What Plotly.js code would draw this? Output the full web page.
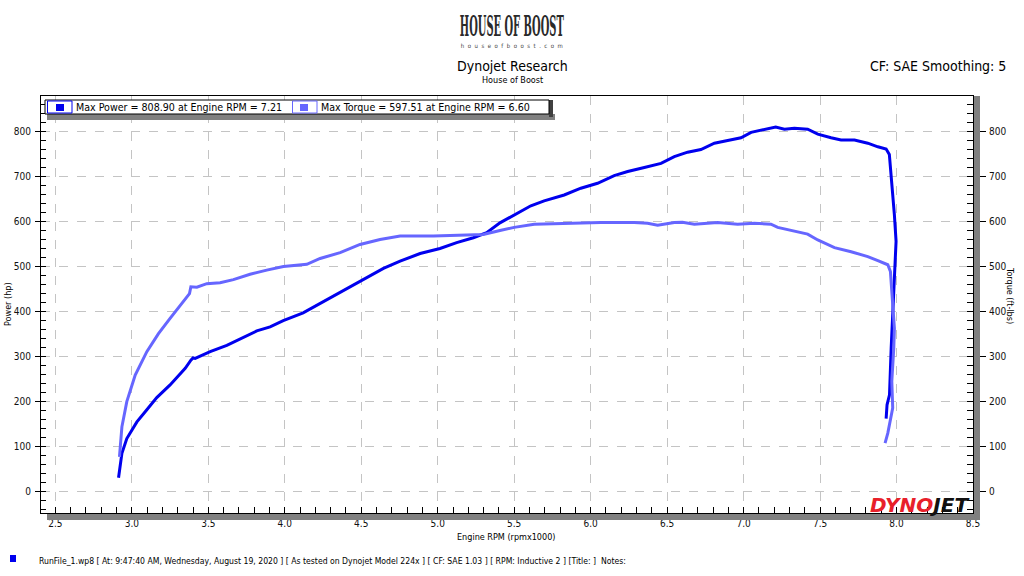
<!DOCTYPE html>
<html>
<head>
<meta charset="utf-8">
<script src="https://cdn.plot.ly/plotly-3.0.1.min.js"></script>
<style>
html,body{margin:0;padding:0;background:#fff;}
#chart{width:1024px;height:576px;}
</style>
</head>
<body>
<div id="chart"></div>
<script>
// ---- data ----
const powerRpm = [2.913,2.935,2.967,3.033,3.098,3.163,3.25,3.349,3.386,3.40,
  3.414,3.512,3.621,3.73,3.817,3.904,3.99,4.12,4.209,4.318,
  4.427,4.514,4.645,4.754,4.885,5.015,5.124,5.233,5.32,5.407,
  5.5,5.609,5.696,5.827,5.936,6.045,6.154,6.242,6.351,6.46,
  6.547,6.634,6.721,6.809,6.896,6.983,7.049,7.136,7.179,7.21,
  7.267,7.332,7.419,7.485,7.572,7.637,7.725,7.812,7.878,7.932,
  7.953,7.969,7.986,7.997,7.986,7.975,7.965,7.954,7.938,7.932];
const powerHp = [30,84,117,154,181,208,236,273,291,296,
  295,310,324,341,356,365,379,396,413,433,
  453,470,495,511,528,539,552,563,574,596,
  614,634,645,658,673,684,701,710,719,728,
  743,753,759,773,779,785,797,804,808,808.9,
  804,806,804,793,785,780,780,773,765,760,
  748,688,614,555,481,392,318,214,192,161];
const torqueRpm = [2.919,2.935,2.967,3.022,3.098,3.174,3.25,3.338,3.377,3.386,
  3.425,3.49,3.577,3.664,3.773,3.882,3.991,4.144,4.231,4.362,
  4.492,4.623,4.754,4.972,5.146,5.298,5.407,5.5,5.631,5.849,
  6.067,6.285,6.372,6.438,6.547,6.60,6.678,6.83,6.961,7.07,
  7.179,7.223,7.31,7.419,7.485,7.594,7.703,7.812,7.878,7.943,
  7.96,7.975,7.986,7.982,7.969,7.975,7.96,7.943,7.925];
const torqueFtLb = [76,143,199,258,310,350,384,421,439,454,
  453,461,463,470,482,491,499,504,517,530,
  548,559,567,567,568,570,579,586,593,595,
  597,597,595,591,597,597.5,593,597,593,595,
  593,586,579,571,558,541,532,521,512,503,
  488,421,362,318,244,185,155,129,107];

const legendLabels = ["Max Power = 808.90 at Engine RPM = 7.21", "Max Torque = 597.51 at Engine RPM = 6.60"];
const titleText = "Dynojet Research";
const subtitleText = "House of Boost";
const cornerText = "CF: SAE Smoothing: 5";
const logoText = "HOUSE OF BOOST";
const logoUrl = "houseofboost.com";
const xTitle = "Engine RPM (rpmx1000)";
const yTitle = "Power (hp)";
const y2Title = "Torque (ft-lbs)";
const footerText = "RunFile_1.wp8 [ At: 9:47:40 AM, Wednesday, August 19, 2020 ] [ As tested on Dynojet Model 224x ] [ CF: SAE 1.03 ] [ RPM: Inductive 2 ] [Title: ]  Notes:";

// ---- styling / layout ----
const powerColor = "#0000EE";
const torqueColor = "#6666FF";
const FONT = "'DejaVu Sans Condensed', 'DejaVu Sans', sans-serif";
const L = 41, T = 96, W = 932, H = 417;
const px = X => (X - L) / W;
const py = Y => (T + H - Y) / H;
const yRange = [-48.4, 877.8];
const xRange = [2.406, 8.5];

const traces = [
  {x: powerRpm, y: powerHp, type: "scatter", mode: "lines", name: legendLabels[0],
   line: {color: powerColor, width: 3}, yaxis: "y", hoverinfo: "skip"},
  {x: torqueRpm, y: torqueFtLb, type: "scatter", mode: "lines", name: legendLabels[1],
   line: {color: torqueColor, width: 3}, yaxis: "y2", hoverinfo: "skip"}
];

function rect(x0, y0, x1, y1, fill, lineColor, lw) {
  return {type: "rect", xref: "paper", yref: "paper", layer: "above",
    x0: px(x0), x1: px(x1), y0: py(y1), y1: py(y0),
    fillcolor: fill || "rgba(0,0,0,0)",
    line: {color: lineColor || "rgba(0,0,0,0)", width: lw || 0}};
}

const shapes = [
  rect(47, 514, 980, 520, "#808080"),
  rect(974, 96, 980, 520, "#808080"),
  // legend box with shadow
  rect(47, 114, 555, 120, "#808080"),
  rect(549, 100, 553, 117, "#404040"),
  rect(45, 100, 549, 114, "#ffffff", "#000000", 1),
  rect(47.5, 101, 72, 113, null, powerColor, 1),
  rect(56, 104, 64, 111, powerColor),
  rect(292.5, 101, 317, 113, null, torqueColor, 1),
  rect(300, 104, 308, 111, torqueColor),
  // footer marker
  rect(10, 555, 16, 562, powerColor)
];

function ann(text, X, Y, opts) {
  return Object.assign({text: text, xref: "paper", yref: "paper", x: px(X), y: py(Y),
    showarrow: false, xanchor: "center", yanchor: "middle",
    font: {family: FONT, size: 11, color: "#000"}}, opts || {});
}

const annotations = [
  ann(logoText, 512, 27, {font: {family: "'DejaVu Serif Condensed', 'DejaVu Serif', serif", size: 27, weight: "bold", color: "#2a2a2a"}}),
  ann(logoUrl, 512, 45, {font: {family: FONT, size: 6, color: "#444"}}),
  ann(titleText, 512, 66, {font: {family: FONT, size: 14, color: "#000"}}),
  ann(subtitleText, 512, 80, {font: {family: FONT, size: 9, color: "#000"}}),
  ann(cornerText, 1008, 66, {xanchor: "right", font: {family: FONT, size: 14, color: "#000"}}),
  ann(legendLabels[0], 74, 107, {xanchor: "left", font: {family: FONT, size: 10.6, color: "#000"}}),
  ann(legendLabels[1], 319, 107, {xanchor: "left", font: {family: FONT, size: 10.6, color: "#000"}}),
  ann(yTitle, 8, 304, {textangle: -90, font: {family: FONT, size: 9, color: "#000"}}),
  ann(y2Title, 1010, 295, {textangle: 90, font: {family: FONT, size: 9, color: "#000"}}),
  ann(xTitle, 506, 537, {font: {family: FONT, size: 9, color: "#000"}}),
  ann(footerText, 37, 561, {xanchor: "left", font: {family: FONT, size: 8.6, color: "#000"}}),
  ann("<span style='color:#e8202a'>DYNO</span><span style='color:#111'>JET</span>", 971, 505,
      {xanchor: "right", font: {family: "'DejaVu Sans', sans-serif", size: 20, weight: "bold", style: "italic"}})
];

const tickFont = {family: FONT, size: 10, color: "#111"};
const gridStyle = {showgrid: true, gridcolor: "#c4c4c4", griddash: "dash", gridwidth: 1};

const layout = {
  width: 1024, height: 576,
  margin: {l: L, r: 1024 - L - W, t: T, b: 576 - T - H, autoexpand: false},
  paper_bgcolor: "#ffffff", plot_bgcolor: "#ffffff",
  showlegend: false,
  font: {family: FONT, size: 10, color: "#000"},
  xaxis: Object.assign({
    range: xRange, tick0: 2.5, dtick: 0.5, tickformat: ".1f",
    ticks: "inside", ticklen: 6, tickcolor: "#000", tickwidth: 1,
    showline: true, linecolor: "#000", linewidth: 1, mirror: true,
    zeroline: false, tickfont: tickFont, ticklabelstandoff: 1,
    minor: {tick0: 2.5, dtick: 0.1, ticks: "inside", ticklen: 6, tickcolor: "#000", showgrid: false},
    fixedrange: true
  }, gridStyle),
  yaxis: Object.assign({
    range: yRange, tick0: 0, dtick: 100,
    ticks: "outside", ticklen: 5, tickcolor: "#000", tickwidth: 1,
    showline: true, linecolor: "#000", linewidth: 1, mirror: true,
    zeroline: false, tickfont: tickFont, ticklabelstandoff: 2,
    minor: {tick0: 0, dtick: 20, ticks: "inside", ticklen: 5, tickcolor: "#000", showgrid: false},
    fixedrange: true
  }, gridStyle),
  yaxis2: {
    overlaying: "y", side: "right", anchor: "x",
    range: yRange, tick0: 0, dtick: 100,
    ticks: "outside", ticklen: 12, tickcolor: "#000", tickwidth: 1,
    showline: false, showgrid: false, zeroline: false,
    tickfont: tickFont, ticklabelstandoff: 1,
    minor: {tick0: 0, dtick: 20, ticks: "inside", ticklen: 6, tickcolor: "#000", showgrid: false},
    fixedrange: true
  },
  yaxis3: {
    overlaying: "y", side: "left", anchor: "x",
    range: yRange, tick0: 0, dtick: 100,
    ticks: "inside", ticklen: 5, tickcolor: "#000", tickwidth: 1,
    showticklabels: false, showline: false, showgrid: false, zeroline: false, fixedrange: true
  },
  yaxis4: {
    overlaying: "y", side: "right", anchor: "x",
    range: yRange, tick0: 0, dtick: 100,
    ticks: "inside", ticklen: 6, tickcolor: "#000", tickwidth: 1,
    showticklabels: false, showline: false, showgrid: false, zeroline: false, fixedrange: true
  },
  shapes: shapes,
  annotations: annotations
};

// squeeze the two logo lines to the width they have in the reference
function fitText(gd, index, width) {
  const t = gd.querySelector('.annotation[data-index="' + index + '"] text.annotation-text');
  if (t) {
    t.setAttribute('textLength', width);
    t.setAttribute('lengthAdjust', 'spacingAndGlyphs');
  }
}
function fitSpacing(gd, index, width) {
  const t = gd.querySelector('.annotation[data-index="' + index + '"] text.annotation-text');
  if (t) {
    t.setAttribute('textLength', width);
    t.setAttribute('lengthAdjust', 'spacing');
  }
}

Plotly.newPlot("chart", traces, layout, {displayModeBar: false, staticPlot: true}).then(gd => {
  fitText(gd, 0, 104);
  fitSpacing(gd, 1, 102);
});
</script>
</body>
</html>
